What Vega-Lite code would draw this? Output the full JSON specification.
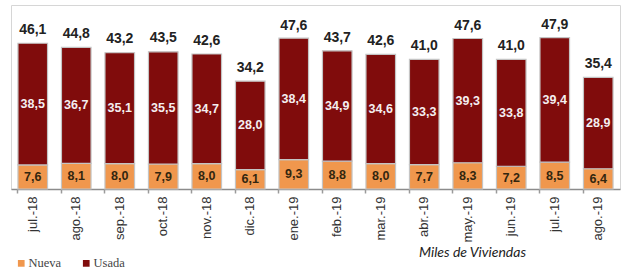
{
  "$schema": "https://vega.github.io/schema/vega-lite/v6.json",
  "width": 609,
  "height": 184,
  "autosize": {"type": "none"},
  "padding": {"left": 11, "top": 5, "right": 7, "bottom": 82},
  "background": "white",
  "config": {
    "locale": {"number": {"decimal": ",", "thousands": ".", "grouping": [3], "currency": ["", " €"]}},
    "view": {"stroke": "#d6d6d6", "strokeWidth": 1},
    "font": "Liberation Sans"
  },
  "data": {
    "values": [
      {"mes": "jul.-18", "Nueva": 7.6, "Usada": 38.5, "Total": 46.1},
      {"mes": "ago.-18", "Nueva": 8.1, "Usada": 36.7, "Total": 44.8},
      {"mes": "sep.-18", "Nueva": 8.0, "Usada": 35.1, "Total": 43.2},
      {"mes": "oct.-18", "Nueva": 7.9, "Usada": 35.5, "Total": 43.5},
      {"mes": "nov.-18", "Nueva": 8.0, "Usada": 34.7, "Total": 42.6},
      {"mes": "dic.-18", "Nueva": 6.1, "Usada": 28.0, "Total": 34.2},
      {"mes": "ene.-19", "Nueva": 9.3, "Usada": 38.4, "Total": 47.6},
      {"mes": "feb.-19", "Nueva": 8.8, "Usada": 34.9, "Total": 43.7},
      {"mes": "mar.-19", "Nueva": 8.0, "Usada": 34.6, "Total": 42.6},
      {"mes": "abr.-19", "Nueva": 7.7, "Usada": 33.3, "Total": 41.0},
      {"mes": "may.-19", "Nueva": 8.3, "Usada": 39.3, "Total": 47.6},
      {"mes": "jun.-19", "Nueva": 7.2, "Usada": 33.8, "Total": 41.0},
      {"mes": "jul.-19", "Nueva": 8.5, "Usada": 39.4, "Total": 47.9},
      {"mes": "ago.-19", "Nueva": 6.4, "Usada": 28.9, "Total": 35.4}
    ]
  },
  "resolve": {"axis": {"x": "independent"}},
  "layer": [
    {
      "transform": [{"fold": ["Nueva", "Usada"], "as": ["tipo", "valor"]}],
      "mark": {"type": "bar", "stroke": "#c4c4c4", "strokeWidth": 1.2},
      "encoding": {
        "x": {
          "field": "mes", "type": "nominal", "sort": null,
          "scale": {"paddingInner": 0.32, "paddingOuter": 0.16},
          "axis": {
            "orient": "bottom",
            "labelAngle": -90, "labelFontSize": 13, "labelColor": "#333", "labelPadding": 7,
            "domainColor": "#8c8c8c", "domainWidth": 1.5, "ticks": false,
            "title": "Miles de Viviendas", "titleFont": "Lato", "titleFontStyle": "italic",
            "titleFontWeight": "normal", "titleFontSize": 14, "titleColor": "#222",
            "titleX": 461, "titleY": 63, "titleAlign": "center", "titleBaseline": "middle", "titleAngle": 0
          }
        },
        "y": {"field": "valor", "type": "quantitative", "stack": "zero", "scale": {"domain": [0, 58.2], "nice": false}, "axis": null},
        "order": {"field": "tipo", "sort": "ascending"},
        "color": {
          "field": "tipo", "type": "nominal",
          "scale": {"domain": ["Nueva", "Usada"], "range": ["#F0974D", "#800C0C"]},
          "legend": {
            "orient": "none", "legendX": 4, "legendY": 252, "direction": "horizontal", "title": null,
            "symbolType": "square", "symbolSize": 45, "symbolStrokeWidth": 0,
            "labelFont": "Liberation Serif", "labelFontSize": 12.5, "labelColor": "#444",
            "columnPadding": 18, "padding": 0, "labelOffset": 1
          }
        }
      }
    },
    {
      "transform": [
        {"fold": ["Nueva", "Usada"], "as": ["tipo", "valor"]},
        {"stack": "valor", "groupby": ["mes"], "sort": [{"field": "tipo", "order": "ascending"}], "as": ["y0", "y1"]},
        {"calculate": "(datum.y0 + datum.y1) / 2", "as": "ymid"},
        {"filter": "datum.tipo == 'Nueva'"}
      ],
      "mark": {"type": "text", "fontWeight": "bold", "fontSize": 12.5, "color": "#33260f", "baseline": "middle"},
      "encoding": {
        "x": {"field": "mes", "type": "nominal", "sort": null, "axis": null},
        "y": {"field": "ymid", "type": "quantitative"},
        "text": {"field": "valor", "type": "quantitative", "format": ".1f"}
      }
    },
    {
      "transform": [
        {"fold": ["Nueva", "Usada"], "as": ["tipo", "valor"]},
        {"stack": "valor", "groupby": ["mes"], "sort": [{"field": "tipo", "order": "ascending"}], "as": ["y0", "y1"]},
        {"calculate": "(datum.y0 + datum.y1) / 2", "as": "ymid"},
        {"filter": "datum.tipo == 'Usada'"}
      ],
      "mark": {"type": "text", "fontWeight": "bold", "fontSize": 12.5, "color": "#f4eef0", "baseline": "middle"},
      "encoding": {
        "x": {"field": "mes", "type": "nominal", "sort": null, "axis": null},
        "y": {"field": "ymid", "type": "quantitative"},
        "text": {"field": "valor", "type": "quantitative", "format": ".1f"}
      }
    },
    {
      "mark": {"type": "text", "fontWeight": "bold", "fontSize": 14, "color": "#222", "baseline": "bottom", "dy": -6},
      "encoding": {
        "x": {
          "field": "mes", "type": "nominal", "sort": null,
          "axis": {"orient": "bottom", "bandPosition": 0, "labels": false, "domain": false, "ticks": true, "tickSize": 4, "tickColor": "#9a9a9a", "tickWidth": 1.5, "title": null}
        },
        "y": {"field": "Total", "type": "quantitative"},
        "text": {"field": "Total", "type": "quantitative", "format": ".1f"}
      }
    }
  ]
}
